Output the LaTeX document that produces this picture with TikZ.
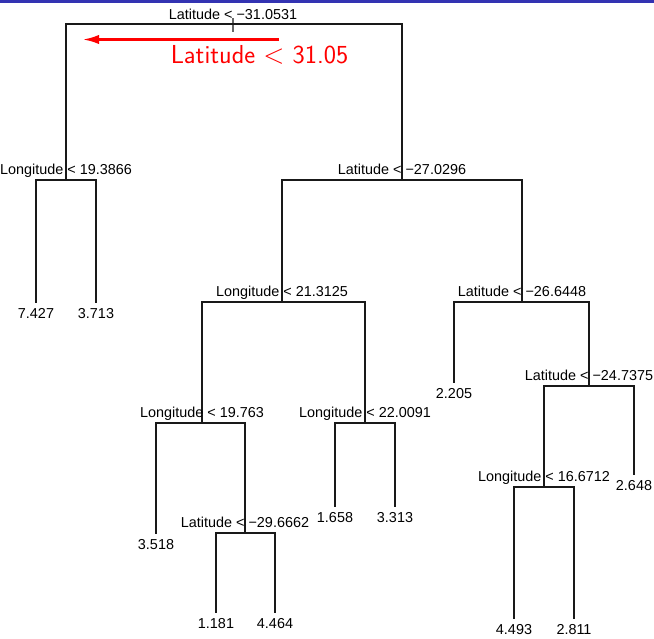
\documentclass[tikz,border=0pt]{standalone}
\usepackage{fontspec}
\newfontfamily\treefont{Liberation Sans}
\usetikzlibrary{arrows.meta}
\definecolor{barblue}{RGB}{51,51,178}
\definecolor{notered}{RGB}{255,0,0}

\begin{document}
\begin{tikzpicture}[x=0.75pt,y=-0.75pt,
  branch/.style={line width=0.95pt, draw=black!90},
  rootstub/.style={line width=0.95pt, draw=black!60},
  splitlabel/.style={font=\treefont\fontsize{10.8}{12}\selectfont, anchor=base, inner sep=0pt},
  leaflabel/.style={font=\treefont\fontsize{10.8}{12}\selectfont, anchor=base, inner sep=0pt},
  notearrow/.style={draw=notered, line width=1.7pt, -{Latex[length=12pt,width=7pt]}},
  notetext/.style={text=notered, font=\sffamily\fontsize{19.5}{22}\selectfont, anchor=base, inner sep=0pt}
]
\useasboundingbox (0,0) rectangle (654,639);
\clip (0,0) rectangle (654,639);
\fill[white] (0,0) rectangle (654,639);

% frame bar along the top edge
\fill[barblue] (0,0) rectangle (654,2.5);

% split points (x = position of the split, y = height of its cross bar)
\coordinate (root) at (233,24);
\coordinate (n2)  at (66,180);
\coordinate (n3)  at (402,180);
\coordinate (n4)  at (282,302);
\coordinate (n5)  at (522,302);
\coordinate (n6)  at (202,423);
\coordinate (n7)  at (365,423);
\coordinate (n8)  at (245,533);
\coordinate (n9)  at (589,386);
\coordinate (n10) at (544,487);

% leaf ends
\coordinate (l1)  at (36,303);
\coordinate (l2)  at (96,303);
\coordinate (l3)  at (156,534);
\coordinate (l4)  at (216,613);
\coordinate (l5)  at (275,613);
\coordinate (l6)  at (335,507);
\coordinate (l7)  at (395,507);
\coordinate (l8)  at (454,383);
\coordinate (l9)  at (634,475);
\coordinate (l10) at (514,619);
\coordinate (l11) at (574,619);

% small stub on the root
\coordinate (stubtop) at (233,18);
\coordinate (stubbot) at (233,32);
\draw[rootstub] (stubtop) -- (stubbot);

% branches
\draw[branch] (root) -| (n2);
\draw[branch] (root) -| (n3);
\draw[branch] (n2) -| (l1);
\draw[branch] (n2) -| (l2);
\draw[branch] (n3) -| (n4);
\draw[branch] (n3) -| (n5);
\draw[branch] (n4) -| (n6);
\draw[branch] (n4) -| (n7);
\draw[branch] (n6) -| (l3);
\draw[branch] (n6) -| (n8);
\draw[branch] (n8) -| (l4);
\draw[branch] (n8) -| (l5);
\draw[branch] (n7) -| (l6);
\draw[branch] (n7) -| (l7);
\draw[branch] (n5) -| (l8);
\draw[branch] (n5) -| (n9);
\draw[branch] (n9) -| (n10);
\draw[branch] (n9) -| (l9);
\draw[branch] (n10) -| (l10);
\draw[branch] (n10) -| (l11);

% split labels
\node[splitlabel] (t1)  at ([yshift=5*0.75pt]root) {Latitude < −31.0531};
\node[splitlabel] (t2)  at ([yshift=5.5*0.75pt]n2)  {Longitude < 19.3866};
\node[splitlabel] (t3)  at ([yshift=5.5*0.75pt]n3)  {Latitude < −27.0296};
\node[splitlabel] (t4)  at ([yshift=5.5*0.75pt]n4)  {Longitude < 21.3125};
\node[splitlabel] (t5)  at ([yshift=5.5*0.75pt]n5)  {Latitude < −26.6448};
\node[splitlabel] (t6)  at ([yshift=5.5*0.75pt]n6)  {Longitude < 19.763};
\node[splitlabel] (t7)  at ([yshift=5.5*0.75pt]n7)  {Longitude < 22.0091};
\node[splitlabel] (t8)  at ([yshift=5.5*0.75pt]n8)  {Latitude < −29.6662};
\node[splitlabel] (t9)  at ([yshift=5.5*0.75pt]n9)  {Latitude < −24.7375};
\node[splitlabel] (t10) at ([yshift=5.5*0.75pt]n10) {Longitude < 16.6712};

% leaf labels
\node[leaflabel] (v1)  at ([yshift=-15.5*0.75pt]l1)  {7.427};
\node[leaflabel] (v2)  at ([yshift=-15.5*0.75pt]l2)  {3.713};
\node[leaflabel] (v3)  at ([yshift=-15.5*0.75pt]l3)  {3.518};
\node[leaflabel] (v4)  at ([yshift=-15.5*0.75pt]l4)  {1.181};
\node[leaflabel] (v5)  at ([yshift=-15.5*0.75pt]l5)  {4.464};
\node[leaflabel] (v6)  at ([yshift=-15.5*0.75pt]l6)  {1.658};
\node[leaflabel] (v7)  at ([yshift=-15.5*0.75pt]l7)  {3.313};
\node[leaflabel] (v8)  at ([yshift=-15.5*0.75pt]l8)  {2.205};
\node[leaflabel] (v9)  at ([yshift=-15.5*0.75pt]l9)  {2.648};
\node[leaflabel] (v10) at ([yshift=-15.5*0.75pt]l10) {4.493};
\node[leaflabel] (v11) at ([yshift=-15.5*0.75pt]l11) {2.811};

% annotation
\coordinate (arrowtail) at (279,39.5);
\coordinate (arrowtip)  at (83,39.5);
\draw[notearrow] (arrowtail) -- (arrowtip);
\node[notetext] (note) at (259.5,63) {Latitude $<$ 31.05};
\end{tikzpicture}
\end{document}
